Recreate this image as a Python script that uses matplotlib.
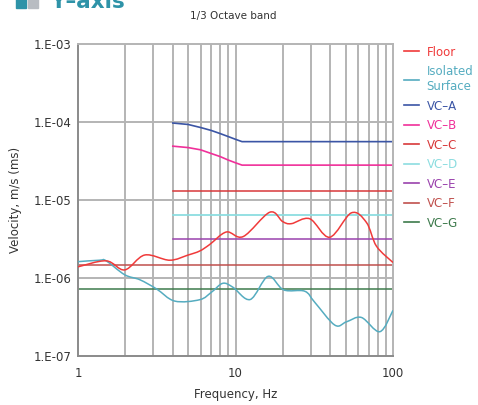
import numpy as np
import matplotlib.pyplot as plt
from matplotlib.path import Path
from matplotlib.patches import PathPatch, Rectangle
from matplotlib.lines import Line2D

# Frequencies (Hz) and velocities (m/s)
floor_f = [1.0, 1.51, 1.98, 2.65, 3.82, 5.0, 5.93, 6.86, 8.75, 11.2, 16.5, 19.9,
           22.6, 29.6, 39.6, 54.4, 67.8, 78.5, 100]
floor_v = [1.39e-6, 1.66e-6, 1.27e-6, 1.97e-6, 1.69e-6, 1.97e-6, 2.22e-6, 2.69e-6,
           3.89e-6, 3.4e-6, 6.97e-6, 5.3e-6, 4.97e-6, 5.75e-6, 3.33e-6, 6.84e-6,
           5.16e-6, 2.56e-6, 1.58e-6]

iso_f = [1.0, 1.37, 1.51, 1.98, 2.47, 3.15, 4.11, 5.93, 7.04, 8.3, 9.64, 12.4, 16.1,
         20.2, 27.5, 31.8, 42.7, 50.6, 63.0, 82.5, 100]
iso_v = [1.62e-6, 1.69e-6, 1.66e-6, 1.1e-6, 9.5e-7, 7.25e-7, 5.06e-7, 5.27e-7, 6.58e-7,
         8.55e-7, 7.6e-7, 5.3e-7, 1.05e-6, 7.05e-7, 6.77e-7, 4.9e-7, 2.49e-7, 2.74e-7,
         3.12e-7, 2.05e-7, 3.85e-7]

vc_ab_f = [4, 5, 6, 7, 8, 9, 10, 11, 100]
vc_a = [9.7e-5, 9.3e-5, 8.5e-5, 7.8e-5, 7.1e-5, 6.5e-5, 6.0e-5, 5.6e-5, 5.6e-5]
vc_b = [4.9e-5, 4.7e-5, 4.4e-5, 3.95e-5, 3.6e-5, 3.25e-5, 3.0e-5, 2.8e-5, 2.8e-5]

vc_c, vc_d, vc_e = 1.3e-5, 6.5e-6, 3.2e-6   # from 4 Hz
vc_f, vc_g = 1.45e-6, 7.2e-7                 # from 1 Hz

labels = ['Floor', 'Isolated\nSurface', 'VC\u2013A', 'VC\u2013B', 'VC\u2013C',
          'VC\u2013D', 'VC\u2013E', 'VC\u2013F', 'VC\u2013G']
colors = ['#f03a3a', '#55acc0', '#3b55a5', '#f0309a', '#d8383a',
          '#8cdde0', '#9a42ad', '#c0504d', '#3d7a4c']


def smooth_path(fs, vs):
    # Catmull-Rom style bezier in log-log space (like a smoothed Excel line)
    lx = np.log10(fs)
    ly = np.log10(vs)
    n = len(lx)
    verts = [(fs[0], vs[0])]
    codes = [Path.MOVETO]
    for i in range(n - 1):
        i0 = max(i - 1, 0)
        i3 = min(i + 2, n - 1)
        c1x = lx[i] + (lx[i + 1] - lx[i0]) / 6
        c1y = ly[i] + (ly[i + 1] - ly[i0]) / 6
        c2x = lx[i + 1] - (lx[i3] - lx[i]) / 6
        c2y = ly[i + 1] - (ly[i3] - ly[i]) / 6
        verts += [(10 ** c1x, 10 ** c1y), (10 ** c2x, 10 ** c2y), (fs[i + 1], vs[i + 1])]
        codes += [Path.CURVE4] * 3
    return Path(verts, codes)


fig = plt.figure(figsize=(4.78, 4.05), dpi=100)
ax = fig.add_axes([78 / 478, 1 - 356 / 405, 315 / 478, 312 / 405])
ax.set_xscale('log')
ax.set_yscale('log')
ax.set_xlim(1, 100)
ax.set_ylim(1e-7, 1e-3)

grid_c = '#b4b4b4'
for f in list(range(2, 10)) + list(range(20, 100, 10)) + [10]:
    ax.axvline(f, color=grid_c, lw=1.4, zorder=1)
for y in [1e-6, 1e-5, 1e-4]:
    ax.axhline(y, color=grid_c, lw=1.4, zorder=1)

ax.plot([1, 100], [vc_g, vc_g], color=colors[8], lw=1.1, zorder=2)
ax.plot([1, 100], [vc_f, vc_f], color=colors[7], lw=1.1, zorder=2)
ax.plot([4, 100], [vc_e, vc_e], color=colors[6], lw=1.1, zorder=2)
ax.plot([4, 100], [vc_d, vc_d], color=colors[5], lw=1.3, zorder=2)
ax.plot([4, 100], [vc_c, vc_c], color=colors[4], lw=1.1, zorder=2)
ax.plot(vc_ab_f, vc_b, color=colors[3], lw=1.2, zorder=2)
ax.plot(vc_ab_f, vc_a, color=colors[2], lw=1.2, zorder=2)

ax.add_patch(PathPatch(smooth_path(iso_f, iso_v), fill=False, ec=colors[1], lw=1.1, zorder=3))
ax.add_patch(PathPatch(smooth_path(floor_f, floor_v), fill=False, ec=colors[0], lw=1.1, zorder=3))

for s in ax.spines.values():
    s.set_color('#8a8a8a')
    s.set_linewidth(1.4)
ax.spines['top'].set_color(grid_c)
ax.spines['right'].set_color(grid_c)

ax.set_yticks([1e-7, 1e-6, 1e-5, 1e-4, 1e-3])
ax.set_yticklabels(['1.E-07', '1.E-06', '1.E-05', '1.E-04', '1.E-03'])
ax.set_xticks([1, 10, 100])
ax.set_xticklabels(['1', '10', '100'])
ax.minorticks_off()
ax.tick_params(length=0, labelsize=8.5, colors='#333333', pad=5)
ax.tick_params(axis='x', pad=8)
ax.set_xlabel('Frequency, Hz', fontsize=8.5, color='#333333', labelpad=6)
ax.set_ylabel('Velocity, m/s (ms)', fontsize=8.5, color='#333333', labelpad=8)

handles = [Line2D([], [], color=c, lw=1.2) for c in colors]
leg = ax.legend(handles, labels, loc='upper left', bbox_to_anchor=(1.02, 1.01),
                frameon=False, fontsize=8.5, handlelength=1.3, handletextpad=0.6,
                labelspacing=0.55, borderaxespad=0)
for t, c in zip(leg.get_texts(), colors):
    t.set_color(c)

fig.text(233 / 478, 1 - 16 / 405, '1/3 Octave band', ha='center', va='center',
         fontsize=7.5, color='#333333')
fig.text(50 / 478, 1 - 8 / 405, 'Y\u2013axis', ha='left', va='baseline',
         fontsize=15.5, fontweight='bold', color='#2e93a8')
fig.patches.append(Rectangle((16 / 478, 1 - 8 / 405), 10 / 478, 12 / 405,
                             transform=fig.transFigure, color='#2e93a8'))
fig.patches.append(Rectangle((28 / 478, 1 - 8 / 405), 10 / 478, 12 / 405,
                             transform=fig.transFigure, color='#b8bcc2'))

fig.savefig('out.png', dpi=100)
